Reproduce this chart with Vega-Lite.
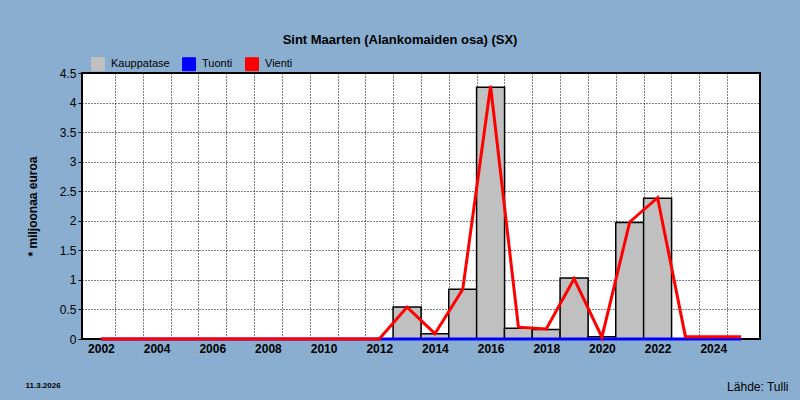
{
  "$schema": "https://vega.github.io/schema/vega-lite/v6.json",
  "description": "Sint Maarten trade balance, imports and exports",
  "autosize": {"type": "none"},
  "width": 678,
  "height": 266,
  "padding": {"left": 82, "top": 73, "right": 40, "bottom": 61},
  "background": "#8aaed0",
  "title": {
    "text": "Sint Maarten (Alankomaiden osa) (SX)",
    "anchor": "middle",
    "frame": "group",
    "dx": -21,
    "offset": 10,
    "font": "Liberation Sans",
    "fontSize": 13,
    "fontWeight": "bold",
    "color": "black"
  },
  "data": {
    "values": [
      {"year": 2002, "Kauppatase": 0, "Tuonti": 0, "Vienti": 0},
      {"year": 2003, "Kauppatase": 0, "Tuonti": 0, "Vienti": 0},
      {"year": 2004, "Kauppatase": 0, "Tuonti": 0, "Vienti": 0},
      {"year": 2005, "Kauppatase": 0, "Tuonti": 0, "Vienti": 0},
      {"year": 2006, "Kauppatase": 0, "Tuonti": 0, "Vienti": 0},
      {"year": 2007, "Kauppatase": 0, "Tuonti": 0, "Vienti": 0},
      {"year": 2008, "Kauppatase": 0, "Tuonti": 0, "Vienti": 0},
      {"year": 2009, "Kauppatase": 0, "Tuonti": 0, "Vienti": 0},
      {"year": 2010, "Kauppatase": 0, "Tuonti": 0, "Vienti": 0},
      {"year": 2011, "Kauppatase": 0, "Tuonti": 0, "Vienti": 0},
      {"year": 2012, "Kauppatase": 0, "Tuonti": 0, "Vienti": 0},
      {"year": 2013, "Kauppatase": 0.54, "Tuonti": 0, "Vienti": 0.54},
      {"year": 2014, "Kauppatase": 0.09, "Tuonti": 0, "Vienti": 0.09},
      {"year": 2015, "Kauppatase": 0.84, "Tuonti": 0, "Vienti": 0.84},
      {"year": 2016, "Kauppatase": 4.26, "Tuonti": 0, "Vienti": 4.28},
      {"year": 2017, "Kauppatase": 0.18, "Tuonti": 0, "Vienti": 0.2},
      {"year": 2018, "Kauppatase": 0.16, "Tuonti": 0, "Vienti": 0.17},
      {"year": 2019, "Kauppatase": 1.03, "Tuonti": 0, "Vienti": 1.02},
      {"year": 2020, "Kauppatase": 0.04, "Tuonti": 0, "Vienti": 0.03},
      {"year": 2021, "Kauppatase": 1.97, "Tuonti": 0, "Vienti": 1.98},
      {"year": 2022, "Kauppatase": 2.38, "Tuonti": 0, "Vienti": 2.39},
      {"year": 2023, "Kauppatase": 0, "Tuonti": 0, "Vienti": 0.04},
      {"year": 2024, "Kauppatase": 0, "Tuonti": 0, "Vienti": 0.04},
      {"year": 2025, "Kauppatase": 0, "Tuonti": 0, "Vienti": 0.04}
    ]
  },
  "layer": [
    {
      "mark": {"type": "bar", "width": 28, "fill": "#c0c0c0", "stroke": "black", "strokeWidth": 1.5},
      "encoding": {
        "x": {
          "field": "year",
          "type": "quantitative",
          "scale": {"domain": [2001.5, 2025.5], "nice": false, "zero": false},
          "axis": {
            "orient": "bottom",
            "values": [2002.5, 2003.5, 2004.5, 2005.5, 2006.5, 2007.5, 2008.5, 2009.5, 2010.5, 2011.5, 2012.5, 2013.5, 2014.5, 2015.5, 2016.5, 2017.5, 2018.5, 2019.5, 2020.5, 2021.5, 2022.5, 2023.5, 2024.5],
            "labels": false,
            "ticks": false,
            "domain": false,
            "grid": true,
            "gridColor": "black",
            "gridDash": [1, 2],
            "gridOpacity": 1,
            "title": "11.3.2026",
            "titleFont": "Liberation Sans",
            "titleFontSize": 8,
            "titleFontWeight": "bold",
            "titleColor": "black",
            "titleAnchor": "start",
            "titleAlign": "left",
            "titleBaseline": "alphabetic",
            "titleX": -57,
            "titleY": 48
          }
        },
        "y": {
          "field": "Kauppatase",
          "type": "quantitative",
          "scale": {"domain": [0, 4.5], "nice": false},
          "axis": {
            "values": [0, 0.5, 1, 1.5, 2, 2.5, 3, 3.5, 4, 4.5],
            "format": "~g",
            "domain": false,
            "grid": true,
            "gridColor": "black",
            "gridDash": [1, 2],
            "gridOpacity": 1,
            "tickColor": "black",
            "tickSize": 4,
            "labelPadding": 2,
            "labelFont": "Liberation Sans",
            "labelFontSize": 12,
            "labelColor": "black",
            "title": "* miljoonaa euroa",
            "titleFont": "Liberation Sans",
            "titleFontSize": 12,
            "titleFontWeight": "bold",
            "titleColor": "black",
            "titleBaseline": "middle",
            "titleX": -50,
            "titleY": 133
          }
        },
        "color": {
          "datum": "Kauppatase",
          "type": "nominal",
          "scale": {"domain": ["Kauppatase", "Tuonti", "Vienti"], "range": ["#c0c0c0", "#0000ff", "#ff0000"]},
          "legend": {
            "orient": "none",
            "legendX": 9,
            "legendY": -16,
            "direction": "horizontal",
            "title": null,
            "symbolType": "square",
            "symbolSize": 169,
            "symbolStrokeColor": "black",
            "symbolStrokeWidth": 1,
            "symbolOpacity": 1,
            "labelFont": "Liberation Sans",
            "labelFontSize": 11,
            "labelColor": "black",
            "labelOffset": 6,
            "columnPadding": 10
          }
        }
      }
    },
    {
      "mark": {"type": "line", "strokeWidth": 3},
      "encoding": {
        "x": {
          "field": "year",
          "type": "quantitative",
          "axis": {
            "orient": "bottom",
            "values": [2002, 2004, 2006, 2008, 2010, 2012, 2014, 2016, 2018, 2020, 2022, 2024],
            "format": "d",
            "domain": false,
            "ticks": false,
            "grid": false,
            "labelPadding": 4,
            "labelFont": "Liberation Sans",
            "labelFontSize": 12,
            "labelFontWeight": "bold",
            "labelColor": "black",
            "title": "Lähde: Tulli",
            "titleFont": "Liberation Sans",
            "titleFontSize": 12,
            "titleFontWeight": "normal",
            "titleColor": "black",
            "titleAnchor": "end",
            "titleAlign": "right",
            "titleBaseline": "alphabetic",
            "titleX": 706,
            "titleY": 51
          }
        },
        "y": {"field": "Tuonti", "type": "quantitative", "axis": null},
        "color": {"datum": "Tuonti", "type": "nominal", "legend": null}
      }
    },
    {
      "mark": {"type": "line", "strokeWidth": 3},
      "encoding": {
        "x": {"field": "year", "type": "quantitative", "axis": null},
        "y": {"field": "Vienti", "type": "quantitative", "axis": null},
        "color": {"datum": "Vienti", "type": "nominal", "legend": null}
      }
    }
  ],
  "resolve": {"axis": {"x": "independent", "y": "independent"}},
  "config": {
    "view": {"fill": "white", "stroke": "black", "strokeWidth": 2}
  }
}
